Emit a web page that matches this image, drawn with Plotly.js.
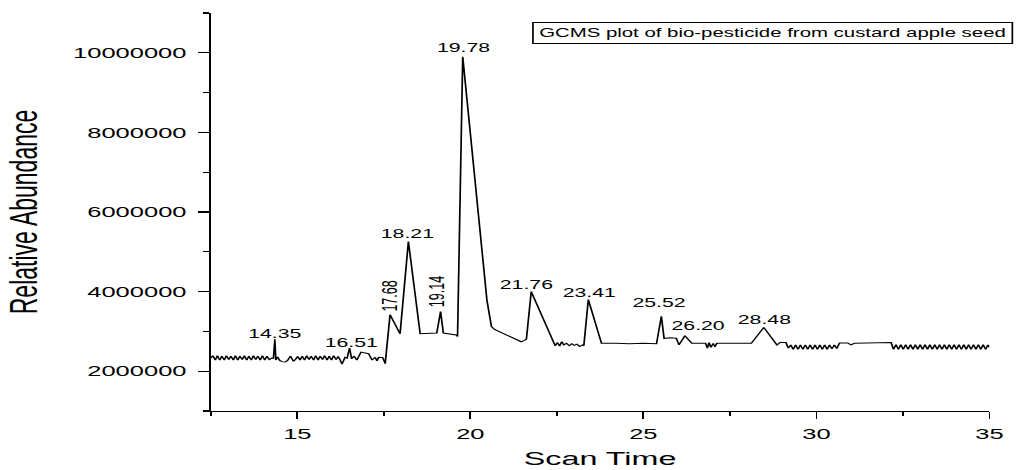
<!DOCTYPE html>
<html>
<head>
<meta charset="utf-8">
<script src="https://cdn.plot.ly/plotly-3.0.1.min.js"></script>
<style>
html,body{margin:0;padding:0;background:#fff;overflow:hidden;}
#wrap{width:599px;height:470px;transform:scaleX(1.7);transform-origin:0 0;}
#plot{width:599px;height:470px;}
</style>
</head>
<body>
<div id="wrap"><div id="plot"></div></div>
<script>
// Chromatogram trace (scan time, relative abundance)
const scanTime = [
12.50,12.56,12.63,12.69,12.76,12.82,12.89,12.95,13.02,13.08,13.15,13.21,13.28,13.34,13.41,13.47,13.54,13.60,13.67,13.73,13.80,13.86,13.93,13.99,14.06,14.12,14.19,14.26,
14.31,14.35,14.38,14.43,14.49,14.56,14.65,14.72,14.80,14.89,14.95,
15.01,15.08,15.14,15.21,15.27,15.34,15.40,15.47,15.53,15.60,15.66,15.73,15.79,15.86,15.92,15.99,16.05,16.12,16.18,16.24,
16.29,16.38,16.44,16.51,16.57,16.64,16.72,16.84,16.95,17.06,17.16,17.25,17.30,17.35,17.47,17.54,
17.68,17.97,18.21,18.55,19.03,19.14,19.22,19.59,19.63,19.78,
20.48,20.61,20.70,21.00,21.20,21.38,21.47,21.55,21.62,21.76,
22.45,22.52,22.58,22.64,22.70,22.78,22.86,22.93,23.00,23.08,23.16,23.24,23.28,23.41,23.79,
24.20,24.60,25.00,25.38,25.52,25.60,25.75,25.95,26.03,26.20,26.40,26.80,26.85,26.90,26.95,27.02,27.07,27.12,27.60,28.12,28.48,28.86,
28.95,29.12,29.19,29.26,29.33,29.40,29.47,29.54,29.61,29.68,29.75,29.82,29.89,29.96,30.03,30.10,30.17,30.24,30.31,30.38,30.45,30.52,30.59,30.67,
30.90,31.00,31.10,31.50,31.80,32.16,
32.23,32.30,32.37,32.44,32.51,32.58,32.65,32.72,32.79,32.86,32.93,33.00,33.07,33.14,33.21,33.28,33.35,33.42,33.49,33.56,33.63,33.70,33.77,33.84,33.91,33.98,
34.05,34.12,34.19,34.26,34.33,34.40,34.47,34.54,34.61,34.68,34.75,34.82,34.89,34.96,35.00
];
const abundance = [
2.33e6,2.39e6,2.28e6,2.39e6,2.28e6,2.38e6,2.28e6,2.39e6,2.29e6,2.38e6,2.28e6,2.39e6,2.28e6,2.38e6,2.29e6,2.39e6,2.28e6,2.38e6,2.28e6,2.39e6,2.29e6,2.38e6,2.28e6,2.39e6,2.28e6,2.38e6,2.29e6,2.33e6,
2.32e6,2.80e6,2.28e6,2.36e6,2.27e6,2.24e6,2.23e6,2.27e6,2.38e6,2.25e6,2.30e6,
2.37e6,2.28e6,2.38e6,2.28e6,2.39e6,2.29e6,2.38e6,2.28e6,2.39e6,2.28e6,2.38e6,2.29e6,2.39e6,2.28e6,2.38e6,2.28e6,2.39e6,2.29e6,2.37e6,2.28e6,
2.18e6,2.35e6,2.33e6,2.58e6,2.31e6,2.38e6,2.28e6,2.48e6,2.45e6,2.44e6,2.28e6,2.35e6,2.26e6,2.35e6,2.34e6,2.19e6,
3.42e6,2.94e6,5.26e6,2.94e6,2.96e6,3.50e6,2.96e6,2.91e6,2.87e6,9.90e6,
3.78e6,3.12e6,3.05e6,2.93e6,2.85e6,2.76e6,2.74e6,2.77e6,2.80e6,4.00e6,
2.64e6,2.72e6,2.63e6,2.74e6,2.66e6,2.70e6,2.64e6,2.69e6,2.65e6,2.68e6,2.62e6,2.66e6,2.64e6,3.80e6,2.70e6,
2.70e6,2.69e6,2.70e6,2.69e6,3.38e6,2.82e6,2.84e6,2.83e6,2.66e6,2.89e6,2.70e6,2.70e6,2.58e6,2.72e6,2.60e6,2.70e6,2.61e6,2.70e6,2.70e6,2.70e6,3.10e6,2.66e6,
2.72e6,2.72e6,2.58e6,2.66e6,2.55e6,2.66e6,2.55e6,2.66e6,2.55e6,2.66e6,2.55e6,2.66e6,2.55e6,2.66e6,2.55e6,2.66e6,2.55e6,2.66e6,2.55e6,2.66e6,2.56e6,2.66e6,2.57e6,2.71e6,
2.71e6,2.66e6,2.70e6,2.71e6,2.71e6,2.72e6,
2.55e6,2.67e6,2.55e6,2.67e6,2.55e6,2.67e6,2.55e6,2.67e6,2.55e6,2.67e6,2.55e6,2.67e6,2.55e6,2.67e6,2.55e6,2.67e6,2.55e6,2.67e6,2.55e6,2.67e6,2.55e6,2.67e6,2.55e6,2.67e6,2.55e6,2.67e6,
2.55e6,2.67e6,2.55e6,2.67e6,2.55e6,2.67e6,2.55e6,2.67e6,2.55e6,2.67e6,2.55e6,2.67e6,2.55e6,2.66e6,2.60e6
];

// Labelled peaks
const peakTimes  = [14.35, 16.51, 17.68, 18.21, 19.14, 19.78, 21.76, 23.41, 25.52, 26.20, 28.48];
const peakAbund  = [2.80e6, 2.58e6, 3.42e6, 5.26e6, 3.50e6, 9.90e6, 4.00e6, 3.80e6, 3.38e6, 2.89e6, 3.10e6];
const peakLabels = ['14.35','16.51','17.68','18.21','19.14','19.78','21.76','23.41','25.52','26.20','28.48'];

const chartTitle = 'GCMS plot of bio-pesticide from custard apple seed';
const xTitle = 'Scan Time';
const yTitle = 'Relative Abundance';

// label styling (offsets in px, pre-stretch)
const rotatedLabels = ['17.68','19.14'];
const labelOffsets = {'14.35':[0,-4],'16.51':[1,-4],'18.21':[-1,-2],'19.14':[-2,2],'17.68':[0,1],
  '19.78':[0,0],'21.76':[-3,-2],'23.41':[0,-2],'25.52':[-2,4],'26.20':[8,1],'28.48':[0,-2]};

const font = 'Arial, "Liberation Sans", sans-serif';

const annotations = peakLabels.map((lab, i) => {
  const off = labelOffsets[lab] || [0,0];
  return {
    x: peakTimes[i], y: peakAbund[i], xref: 'x', yref: 'y',
    text: lab, showarrow: false,
    textangle: rotatedLabels.includes(lab) ? -90 : 0,
    xanchor: 'center', yanchor: 'bottom',
    xshift: off[0], yshift: off[1],
    font: {family: font, size: 12.5, color: '#000'}
  };
});
annotations.push({
  xref: 'paper', yref: 'paper', x: 1.03, y: 0.95,
  xanchor: 'right', yanchor: 'middle',
  text: chartTitle, showarrow: false,
  bordercolor: '#000', borderwidth: 1, borderpad: 3,
  font: {family: font, size: 12, color: '#000'}
});

const trace = {
  x: scanTime, y: abundance, type: 'scatter', mode: 'lines',
  line: {color: '#000', width: 1}, hoverinfo: 'skip'
};

const layout = {
  width: 599, height: 470,
  margin: {l: 124, r: 17, t: 13, b: 59},
  paper_bgcolor: '#fff', plot_bgcolor: '#fff',
  showlegend: false,
  xaxis: {
    range: [12.5, 35], tick0: 0, dtick: 5,
    showgrid: false, zeroline: false,
    showline: true, linecolor: '#000', linewidth: 1.3,
    ticks: 'outside', ticklen: 7, tickwidth: 1, tickcolor: '#000',
    minor: {dtick: 2.5, tick0: 0, ticks: 'outside', ticklen: 4, tickwidth: 1, tickcolor: '#000', showgrid: false},
    tickfont: {family: font, size: 15, color: '#000'},
    ticklabelstandoff: 2,
    title: {text: xTitle, font: {family: font, size: 19, color: '#000'}, standoff: 10}
  },
  yaxis: {
    range: [1e6, 11e6], tick0: 0, dtick: 2e6, tickformat: 'd',
    showgrid: false, zeroline: false,
    showline: true, linecolor: '#000', linewidth: 1.3,
    ticks: 'outside', ticklen: 6, tickwidth: 1.3, tickcolor: '#000',
    minor: {dtick: 1e6, tick0: 0, ticks: 'outside', ticklen: 3, tickwidth: 1.3, tickcolor: '#000', showgrid: false},
    tickfont: {family: font, size: 15, color: '#000'},
    ticklabelstandoff: 4,
    title: {text: yTitle, font: {family: font, size: 23, color: '#000'}, standoff: 14}
  },
  annotations: annotations
};

Plotly.newPlot('plot', [trace], layout, {displayModeBar: false, staticPlot: true});
</script>
</body>
</html>
